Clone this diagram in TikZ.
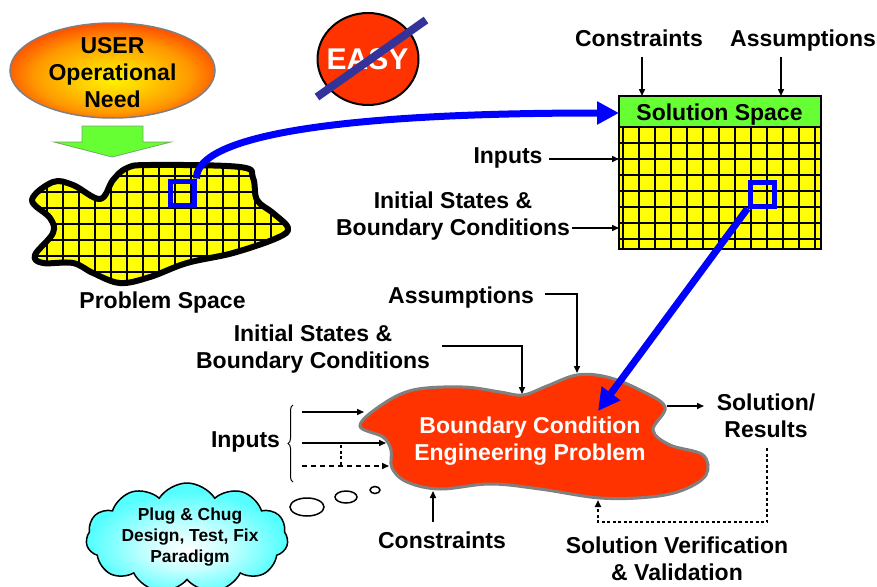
\documentclass[tikz,border=0pt]{standalone}
\usepackage{fontspec}
\setmainfont{Liberation Sans}
\usetikzlibrary{arrows.meta,shapes.geometric,shapes.symbols,decorations.pathreplacing}

\definecolor{redfill}{HTML}{FF3300}
\definecolor{greenfill}{HTML}{66FF33}
\definecolor{gridyellow}{HTML}{FFFF00}
\definecolor{strike}{HTML}{333399}
\definecolor{blobedge}{HTML}{808080}
\definecolor{cloudcyan}{HTML}{55FFFF}
\definecolor{usermid}{HTML}{FF9900}
\definecolor{userwarm}{HTML}{FFCC00}
\definecolor{usercore}{HTML}{FFF200}
\definecolor{cloudmid}{HTML}{C8FFFF}

\pgfdeclareradialshading{usershade}{\pgfpoint{0bp}{-5bp}}{%
  color(0bp)=(usercore); color(9bp)=(userwarm); color(19bp)=(usermid); color(30bp)=(redfill); color(50bp)=(redfill)}
\pgfdeclareradialshading{cloudshade}{\pgfpoint{0bp}{-6bp}}{%
  color(0bp)=(white); color(10bp)=(cloudmid); color(24bp)=(cloudcyan); color(50bp)=(cloudcyan)}

\begin{document}
\begin{tikzpicture}[x=1pt,y=-1pt,
  lbl/.style={font=\bfseries\fontsize{23}{27.5}\selectfont, inner sep=0pt, anchor=base},
  small lbl/.style={font=\bfseries\fontsize{17.4}{21}\selectfont, inner sep=0pt, anchor=base},
  thin arrow/.style={line width=1.5pt, -{Triangle[length=7pt,width=6pt]}},
  blue arrow/.style={draw=blue, line width=7pt, -{Triangle[length=22pt,width=22pt]}},
  gridline/.style={line width=1.8pt},
  bluesq/.style={draw=blue, line width=5pt, minimum size=24pt, inner sep=0pt},
  bubble/.style={ellipse, draw, line width=1.5pt, fill=white, inner sep=0pt},
  dotline/.style={line width=2.5pt, dash pattern=on 3pt off 2.5pt}]
\useasboundingbox (0,0) rectangle (877,586);

% ---------- user need and the arrow down to the problem space ----------
\node[ellipse, draw=blobedge, line width=1.5pt, shading=usershade,
      minimum width=205pt, minimum height=95pt] (user) at (112.5,70.5) {};
\node[lbl] (usertxt) at (112.5,53) {\begin{tabular}[t]{@{}c@{}}USER\\Operational\\Need\end{tabular}};
\fill[greenfill, draw=blobedge!70!greenfill, line width=0.8pt]
  (82,126) -- (143,126) -- (143,142) -- (171,142) -- (112,157) -- (54,142) -- (82,142) -- cycle;

% ---------- problem space ----------
\begin{scope}
  \clip plot[smooth cycle, tension=0.6] coordinates {
    (32,200) (53,182) (73,185) (100,199) (113,180) (127,168) (150,165) (240,167)
    (253,178) (257,200) (273,213) (288,228) (277,238) (233,253) (187,263) (150,277)
    (120,283) (93,273) (73,263) (43,263) (35,255) (53,233) (50,218)};
  \fill[gridyellow] (0,150) rectangle (300,300);
  \foreach \x in {47,63,...,287} \draw[gridline] (\x,150) -- (\x,300);
  \foreach \y in {160,176,...,288} \draw[gridline] (20,\y) -- (300,\y);
\end{scope}
\draw[line width=6pt, line join=round] plot[smooth cycle, tension=0.6] coordinates {
    (32,200) (53,182) (73,185) (100,199) (113,180) (127,168) (150,165) (240,167)
    (253,178) (257,200) (273,213) (288,228) (277,238) (233,253) (187,263) (150,277)
    (120,283) (93,273) (73,263) (43,263) (35,255) (53,233) (50,218)};
\node[bluesq] (psq) at (182,193) {};
\node[lbl] (probtxt) at (162.5,308) {Problem Space};

% ---------- EASY, struck through ----------
\node[ellipse, draw, fill=redfill, line width=2pt, minimum width=101pt, minimum height=92pt] (easy) at (368,59) {};
\node[lbl, font=\bfseries\fontsize{30}{34}\selectfont, text=white] (easytxt) at (367.5,70) {EASY};
\draw[strike, line width=8pt] (317,97) -- (426,20);

% ---------- solution space ----------
\node[draw, fill=greenfill, line width=2pt, minimum width=202pt, minimum height=31pt,
      inner sep=0pt, outer sep=0pt] (hdr) at (720,111.5) {};
\node[lbl] (hdrtxt) at (719.5,120) {Solution Space};
\begin{scope}
  \clip (619,127) rectangle (821,249);
  \fill[gridyellow] (619,127) rectangle (821,249);
  \foreach \x in {623,639,...,815} \draw[gridline] (\x,127) -- (\x,249);
  \foreach \y in {143,159,...,239} \draw[gridline] (619,\y) -- (821,\y);
\end{scope}
\draw[line width=2pt] (619,127) rectangle (821,249);
\node[bluesq] (ssq) at (762,194) {};

\node[lbl] (ctop) at (639,47) {Constraints};
\node[lbl] (atop) at (803,47) {Assumptions};
\coordinate (ctopA) at (642,57);
\coordinate (atopA) at (781,57);
\draw[thin arrow] (ctopA) -- (ctopA |- hdr.north);
\draw[thin arrow] (atopA) -- (atopA |- hdr.north);

\node[lbl] (itop) at (508,163) {Inputs};
\coordinate (itopA) at (549,159);
\coordinate (itopB) at (619,159);
\draw[thin arrow] (itopA) -- (itopB);
\node[lbl] (istop) at (453,208) {\begin{tabular}[t]{@{}c@{}}Initial States \&\\Boundary Conditions\end{tabular}};
\coordinate (istopA) at (572,228);
\coordinate (istopB) at (619,228);
\draw[thin arrow] (istopA) -- (istopB);

% ---------- blue mapping arrow into the solution space ----------
\coordinate (hdrL) at (619,113);
\draw[blue arrow] (psq.north east) .. controls (196,137) and (330,113) .. (hdrL);

% ---------- boundary condition engineering problem ----------
\draw[blobedge, fill=redfill, line width=3pt] plot[smooth cycle, tension=0.6] coordinates {
  (360,426) (380,406) (413,390) (463,387) (500,392) (523,395) (547,386) (577,375)
  (607,377) (640,390) (665,407) (653,430) (670,445) (703,455) (706,475) (683,490)
  (650,497) (600,498) (540,489) (490,484) (440,489) (407,482) (392,468) (391,450) (383,437)};
\coordinate (bctip) at (598,411);
\draw[blue arrow] (ssq.south west) -- (bctip);
\node[lbl, text=white] (bcp) at (530,433) {\begin{tabular}[t]{@{}c@{}}Boundary Condition\\Engineering Problem\end{tabular}};

\node[lbl] (abot) at (461,303) {Assumptions};
\coordinate (abotA) at (545,294);
\coordinate (abotB) at (577,373);
\draw[thin arrow] (abotA) -| (abotB);

\node[lbl] (isbot) at (313,341) {\begin{tabular}[t]{@{}c@{}}Initial States \&\\Boundary Conditions\end{tabular}};
\coordinate (isbotA) at (442,346);
\coordinate (isbotB) at (522,394);
\draw[thin arrow] (isbotA) -| (isbotB);

% inputs with brace
\node[lbl] (ibot) at (245.5,447) {Inputs};
\draw[line width=1pt, decorate, decoration={brace, amplitude=5pt}] (293,482) -- (293,405);
\coordinate (in1A) at (302,412);
\coordinate (in1B) at (364,412);
\coordinate (in2A) at (302,443);
\coordinate (in2B) at (386,443);
\coordinate (in3A) at (302,466);
\coordinate (in3B) at (389,466);
\draw[thin arrow] (in1A) -- (in1B);
\draw[thin arrow] (in2A) -- (in2B);
\draw[thin arrow, dash pattern=on 5pt off 4pt] (in3A) -- (in3B);
\coordinate (dotA) at (341,445);
\draw[dotline] (dotA) -- (dotA |- in3A);

% constraints from below
\node[lbl] (cbot) at (442,548) {Constraints};
\coordinate (cbotA) at (433,522);
\coordinate (cbotB) at (433,491);
\draw[thin arrow] (cbotA) -- (cbotB);

% results and verification loop
\node[lbl] (res) at (766,410) {\begin{tabular}[t]{@{}c@{}}Solution/\\Results\end{tabular}};
\coordinate (resIn) at (667,406);
\coordinate (resInB) at (704,406);
\draw[thin arrow] (resIn) -- (resInB);
\coordinate (resA) at (767,448);
\coordinate (fbCorner) at (598,522);
\coordinate (fbTip) at (598,500);
\draw[dotline, -{Triangle[length=7pt,width=6pt]}]
  (resA) |- (fbCorner) -- (fbTip);
\node[lbl] (svv) at (677,553) {\begin{tabular}[t]{@{}c@{}}Solution Verification\\\& Validation\end{tabular}};

% ---------- thought bubbles and cloud ----------
\node[bubble, minimum width=10pt, minimum height=7pt] (th3) at (375,490) {};
\node[bubble, minimum width=22pt, minimum height=12pt] (th2) at (346,497) {};
\node[bubble, minimum width=34pt, minimum height=18pt] (th1) at (307,507) {};
\node[cloud, cloud puffs=11, cloud puff arc=115, aspect=1.9, draw, line width=1.5pt,
      shading=cloudshade, minimum width=202pt, minimum height=110pt, inner sep=0pt] (cloud) at (187,538) {};
\node[small lbl] (cloudtxt) at (190,520) {\begin{tabular}[t]{@{}c@{}}Plug \& Chug\\Design, Test, Fix\\Paradigm\end{tabular}};
\end{tikzpicture}
\end{document}
